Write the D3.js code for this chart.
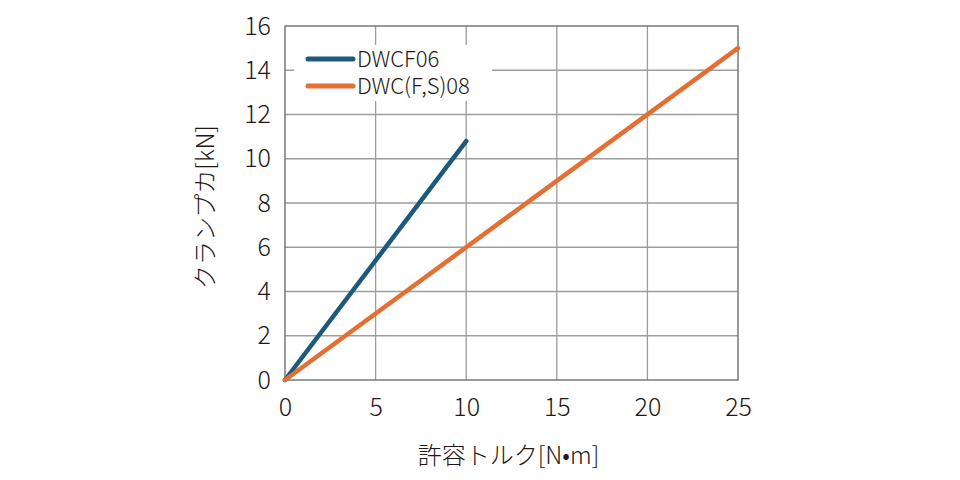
<!DOCTYPE html>
<html>
<head>
<meta charset="utf-8">
<script src="https://cdn.jsdelivr.net/npm/d3@7"></script>
<style>
  body { margin: 0; background: #fff; }
  svg text { font-family: "Noto Sans CJK JP", "Noto Sans", sans-serif; font-weight: 300; fill: #231815; }
</style>
</head>
<body>
<div id="chart"></div>
<script>
// chart values
var seriesNames = ["DWCF06", "DWC(F,S)08"],
    seriesColors = ["#1c5a7c", "#e46f33"],
    dwcf06 = [ [0, 0], [10, 10.8] ],
    dwc08 = [ [0, 0], [25, 15] ],
    xTicks = [0, 5, 10, 15, 20, 25],
    yTicks = [0, 2, 4, 6, 8, 10, 12, 14, 16],
    xTitle = "許容トルク[N•m]",
    yTitle = "クランプカ[kN]";

var W = 960, H = 480,
    m = { t: 26, r: 222, b: 100, l: 285 },
    w = W - m.l - m.r,
    h = H - m.t - m.b;

var svg = d3.select("#chart")
  .append("svg")
    .attr("width", W)
    .attr("height", H);

var plot = svg.append("g")
    .attr("transform", "translate(" + m.l + "," + m.t + ")");

var scaleX = d3.scaleLinear().domain([0, 25]).range([0, w]),
    scaleY = d3.scaleLinear().domain([0, 16]).range([h, 0]);

// grid
plot.append("g")
    .attr("class", "grid-x")
    .selectAll("line")
    .data(xTicks.slice(1, -1))
  .enter().append("line")
    .attr("x1", d => scaleX(d)).attr("x2", d => scaleX(d))
    .attr("y1", 0).attr("y2", h)
    .attr("stroke", "#9d9d9d")
    .attr("stroke-width", 1.3);
plot.append("g")
    .attr("class", "grid-y")
    .selectAll("line")
    .data(yTicks.slice(1, -1))
  .enter().append("line")
    .attr("y1", d => scaleY(d)).attr("y2", d => scaleY(d))
    .attr("x1", 0).attr("x2", w)
    .attr("stroke", "#9d9d9d")
    .attr("stroke-width", 1.3);

plot.append("rect")
    .attr("width", w)
    .attr("height", h)
    .attr("fill", "none")
    .attr("stroke", "#6f6f6f")
    .attr("stroke-width", 1.4);

// axes (labels only)
var axisX = d3.axisBottom(scaleX).tickValues(xTicks).tickSize(0).tickPadding(18);
var axisY = d3.axisLeft(scaleY).tickValues(yTicks).tickSize(0).tickPadding(14);

plot.append("g")
    .attr("transform", "translate(0," + h + ")")
    .call(axisX)
    .selectAll("text")
    .style("font-size", "25px");
plot.append("g")
    .call(axisY)
    .selectAll("text")
    .style("font-size", "25px");
plot.selectAll(".domain").remove();

// legend box
var lg = plot.append("g").attr("transform", "translate(9,19)");
lg.append("rect")
    .attr("width", 198)
    .attr("height", 56)
    .attr("fill", "#fff");
seriesNames.forEach(function(name, i) {
  var y = 14 + i * 27;
  lg.append("line")
      .attr("x1", 14).attr("x2", 59)
      .attr("y1", y).attr("y2", y)
      .attr("stroke", seriesColors[i])
      .attr("stroke-width", 5)
      .attr("stroke-linecap", "round");
  lg.append("text")
      .attr("x", 63)
      .attr("y", y)
      .attr("dy", "0.35em")
      .style("font-size", "22px")
      .text(name);
});

// data lines
var line = d3.line()
    .x(d => scaleX(d[0]))
    .y(d => scaleY(d[1]));

[dwcf06, dwc08].forEach(function(s, i) {
  plot.append("path")
      .datum(s)
      .attr("d", line)
      .attr("fill", "none")
      .attr("stroke", seriesColors[i])
      .attr("stroke-width", 4.5)
      .attr("stroke-linecap", "round");
});

// titles
svg.append("text")
    .attr("x", m.l + scaleX(12.5) - 3)
    .attr("y", 464)
    .attr("text-anchor", "middle")
    .style("font-size", "24px")
    .text(xTitle);

svg.append("text")
    .attr("transform", "translate(214," + (m.t + h / 2 + 4) + ") rotate(-90)")
    .attr("text-anchor", "middle")
    .style("font-size", "24px")
    .text(yTitle);
</script>
</body>
</html>
